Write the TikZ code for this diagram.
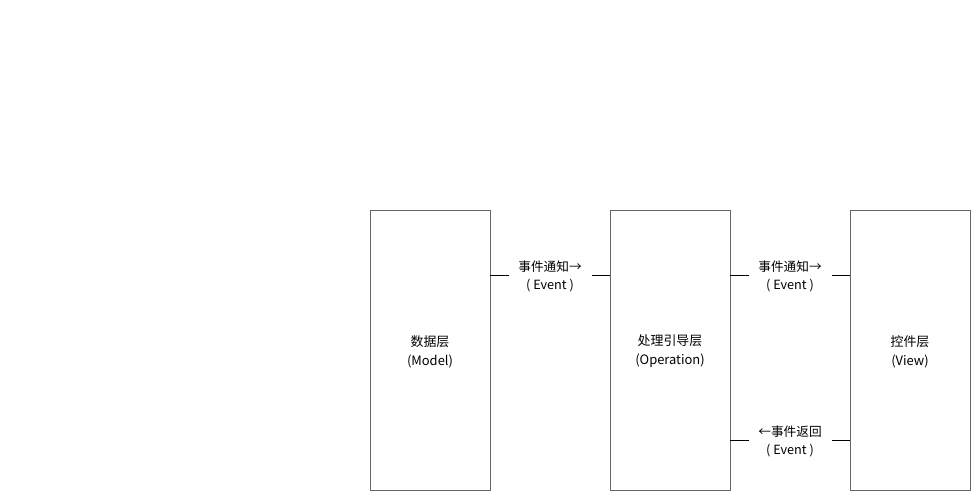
\documentclass[tikz,border=0pt]{standalone}
\usepackage{fontspec}
\setmainfont{Noto Sans CJK SC}
\begin{document}
\begin{tikzpicture}[x=0.75pt,y=-0.75pt,
  layer/.style={draw=black!60,line width=0.6pt,minimum width=120*0.75pt,minimum height=280*0.75pt,inner sep=0pt},
  ltext/.style={yshift=-1.1pt,align=center,font=\fontsize{9.7pt}{14.3pt}\selectfont},
  conn/.style={draw=black,line width=0.6pt},
  lbl/.style={fill=white,minimum width=83*0.75pt,inner sep=1pt,align=center,font=\fontsize{9.5pt}{13.5pt}\selectfont}]
\useasboundingbox (0,0) rectangle (978,498);
\node[layer,label={[ltext]center:数据层\\(Model)}] (model) at (430,350) {};
\node[layer,label={[ltext]center:处理引导层\\(Operation)}] (op) at (670,350) {};
\node[layer,label={[ltext]center:控件层\\(View)}] (view) at (910,350) {};
\coordinate (a1) at (490,275);
\coordinate (a2) at (610,275);
\coordinate (b1) at (730,275);
\coordinate (b2) at (850,275);
\coordinate (c1) at (730,440);
\coordinate (c2) at (850,440);
\draw[conn] (model.east |- a1) -- node[lbl,yshift=-0.75pt] {事件通知→\\( Event )} (op.west |- a2);
\draw[conn] (op.east |- b1) -- node[lbl,yshift=-0.75pt] {事件通知→\\( Event )} (view.west |- b2);
\draw[conn] (op.east |- c1) -- node[lbl,yshift=-0.75pt] {←事件返回\\( Event )} (view.west |- c2);
\end{tikzpicture}
\end{document}
